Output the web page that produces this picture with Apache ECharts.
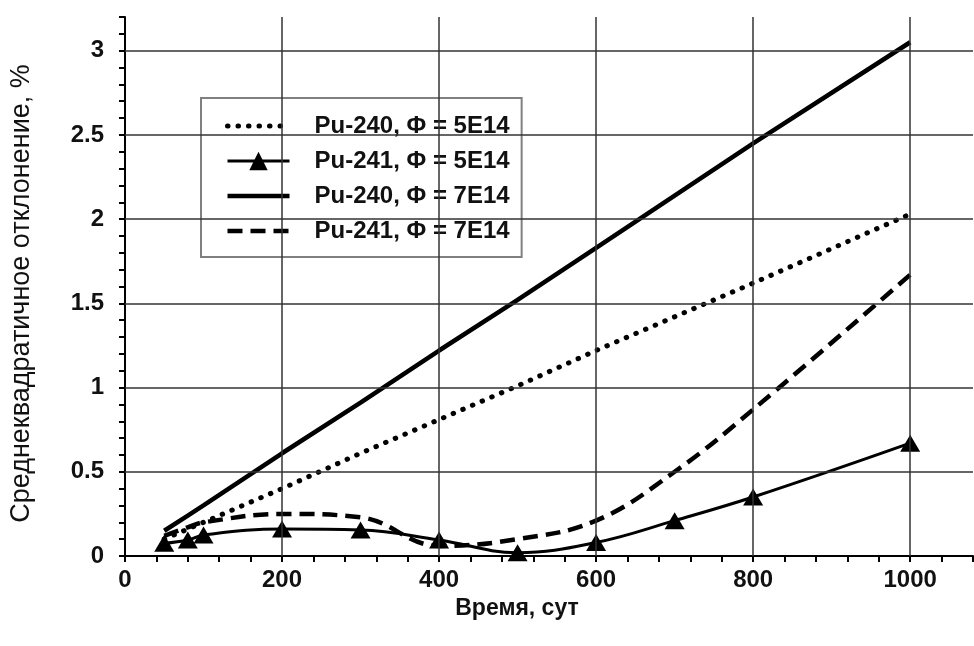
<!DOCTYPE html>
<html>
<head>
<meta charset="utf-8">
<script src="https://cdn.jsdelivr.net/npm/echarts@6/dist/echarts.min.js"></script>
<style>
  html, body { margin: 0; padding: 0; background: #fff; }
  #chart { width: 974px; height: 646px; }
</style>
</head>
<body>
<div id="chart"></div>
<script>
// время, сут
var days = [50, 80, 100, 200, 300, 400, 500, 600, 700, 800, 1000];

var pu240_5e14 = [0.10, 0.16, 0.20, 0.40, 0.61, 0.81, 1.01, 1.22, 1.42, 1.62, 2.03];
var pu241_5e14 = [0.075, 0.095, 0.125, 0.16, 0.155, 0.095, 0.02, 0.08, 0.21, 0.35, 0.67];
var pu240_7e14 = [0.15, 0.24, 0.30, 0.61, 0.91, 1.22, 1.52, 1.83, 2.14, 2.45, 3.05];
var pu241_7e14 = [0.12, 0.17, 0.20, 0.25, 0.23, 0.06, 0.10, 0.21, 0.50, 0.87, 1.67];

var seriesNames = ['Pu-240, Φ = 5E14', 'Pu-241, Φ = 5E14', 'Pu-240, Φ = 7E14', 'Pu-241, Φ = 7E14'];

// линии сетки
var xGrid = [200, 400, 600, 800, 1000];
var yGrid = [0.5, 1, 1.5, 2, 2.5, 3];

var FONT = "'Liberation Sans',Arial,sans-serif";

var dotted = { color: '#000', width: 5, type: [0.5, 10], cap: 'round' };
var thin = { color: '#000', width: 3 };
var thick = { color: '#000', width: 4.5 };
var dashed = { color: '#000', width: 4.5, type: [15, 8] };

function pairs(ys) {
    return days.map(function (d, i) { return [d, ys[i]]; });
}

var myChart = echarts.init(document.getElementById('chart'));

var gridLines = [];
xGrid.forEach(function (v) { gridLines.push({ xAxis: v }); });
yGrid.forEach(function (v) { gridLines.push({ yAxis: v }); });

var noSymbol = { opacity: 0 };

var option = {
    backgroundColor: '#ffffff',
    animation: false,
    grid: { left: 125, right: 1, top: 17, bottom: 90, outerBoundsMode: 'none', containLabel: false },
    legend: {
        orient: 'vertical',
        left: 201,
        top: 98,
        data: [
            { name: seriesNames[0], itemStyle: noSymbol, lineStyle: dotted },
            { name: seriesNames[1], lineStyle: thin },
            { name: seriesNames[2], itemStyle: noSymbol, lineStyle: thick },
            { name: seriesNames[3], itemStyle: noSymbol, lineStyle: dashed }
        ],
        backgroundColor: '#ffffff',
        borderColor: '#808080',
        borderWidth: 2,
        borderRadius: 0,
        padding: [16, 12, 14, 24],
        itemWidth: 62,
        itemHeight: 23,
        itemGap: 11,
        textStyle: {
            fontFamily: FONT,
            fontWeight: 'bold',
            fontSize: 24,
            color: '#111',
            padding: [0, 0, 0, 20]
        }
    },
    xAxis: {
        type: 'value',
        min: 0,
        max: 1080,
        interval: 40,
        name: 'Время, сут',
        nameLocation: 'middle',
        nameGap: 34,
        nameTextStyle: {
            fontFamily: FONT,
            fontWeight: 'bold',
            fontSize: 23,
            color: '#111',
            padding: [0, 64, 0, 0]
        },
        axisLine: { lineStyle: { color: '#000', width: 2 } },
        axisTick: { length: 6, lineStyle: { color: '#000', width: 2 } },
        axisLabel: {
            margin: 12,
            fontFamily: FONT,
            fontWeight: 'bold',
            fontSize: 24,
            color: '#111',
            formatter: function (v) { return v % 200 === 0 && v <= 1000 ? String(v) : ''; }
        },
        splitLine: { show: false }
    },
    yAxis: {
        type: 'value',
        min: 0,
        max: 3.2,
        interval: 0.1,
        name: 'Среднеквадратичное отклонение, %',
        nameLocation: 'middle',
        nameGap: 90,
        nameTextStyle: {
            fontFamily: FONT,
            fontSize: 27,
            color: '#111',
            padding: [0, 14, 0, 0]
        },
        axisLine: { lineStyle: { color: '#000', width: 2 } },
        axisTick: { length: 6, lineStyle: { color: '#000', width: 2 } },
        axisLabel: {
            margin: 21,
            fontFamily: FONT,
            fontWeight: 'bold',
            fontSize: 24,
            color: '#111',
            formatter: function (v) {
                var r = Math.round(v * 10) / 10;
                return Math.abs(r * 2 - Math.round(r * 2)) < 1e-6 ? String(r) : '';
            }
        },
        splitLine: { show: false }
    },
    series: [
        {
            name: 'grid',
            type: 'line',
            data: [],
            z: 1,
            silent: true,
            markLine: {
                silent: true,
                symbol: 'none',
                label: { show: false },
                lineStyle: { color: '#333', width: 1.5, type: 'solid' },
                data: gridLines
            }
        },
        {
            name: seriesNames[0],
            type: 'line',
            z: 3,
            data: pairs(pu240_5e14),
            symbol: 'none',
            color: '#000',
            lineStyle: dotted
        },
        {
            name: seriesNames[1],
            type: 'line',
            z: 4,
            data: pairs(pu241_5e14),
            smooth: 0.4,
            symbol: 'triangle',
            symbolSize: [20, 17],
            color: '#000',
            itemStyle: { color: '#000' },
            lineStyle: thin
        },
        {
            name: seriesNames[2],
            type: 'line',
            z: 3,
            data: pairs(pu240_7e14),
            symbol: 'none',
            color: '#000',
            lineStyle: thick
        },
        {
            name: seriesNames[3],
            type: 'line',
            z: 3,
            data: pairs(pu241_7e14),
            smooth: 0.4,
            symbol: 'none',
            color: '#000',
            lineStyle: dashed
        }
    ]
};

myChart.setOption(option);
</script>
</body>
</html>
